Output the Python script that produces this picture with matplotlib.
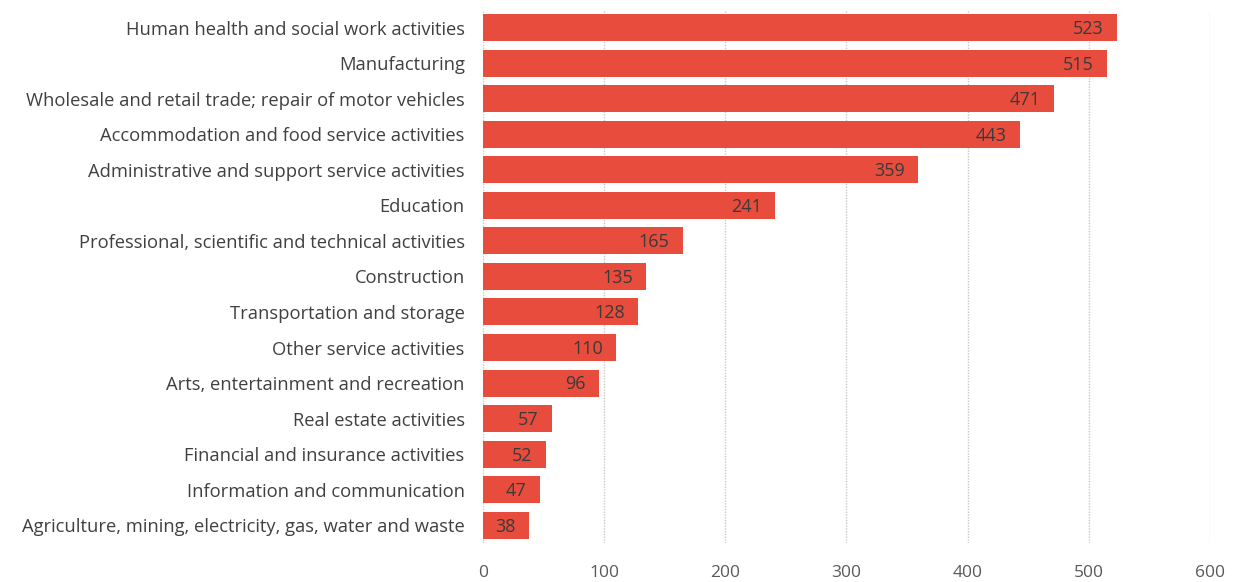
import numpy as np
import matplotlib.pyplot as plt

sectors = [
    "Human health and social work activities",
    "Manufacturing",
    "Wholesale and retail trade; repair of motor vehicles",
    "Accommodation and food service activities",
    "Administrative and support service activities",
    "Education",
    "Professional, scientific and technical activities",
    "Construction",
    "Transportation and storage",
    "Other service activities",
    "Arts, entertainment and recreation",
    "Real estate activities",
    "Financial and insurance activities",
    "Information and communication",
    "Agriculture, mining, electricity, gas, water and waste",
]
values = [523, 515, 471, 443, 359, 241, 165, 135, 128, 110, 96, 57, 52, 47, 38]
xticks = [0, 100, 200, 300, 400, 500, 600]

plt.rcParams['font.family'] = ['Open Sans', 'DejaVu Sans']

fig = plt.figure(figsize=(12.41, 5.82), dpi=100)
ax = fig.add_axes([0.389, 0.067, 0.586, 0.916])

ypos = np.arange(len(sectors))
bars = ax.barh(ypos, values, height=0.76, color="#E84C3D", zorder=2)
for b, v in zip(bars, values):
    ax.text(b.get_width() - 11, b.get_y() + b.get_height() / 2 + 0.04, str(v),
            ha="right", va="center", fontsize=13, color="#3a3a3a", zorder=3)

ax.set_yticks(ypos)
ax.set_yticklabels(sectors, fontsize=13.2, color="#404040")
ax.set_ylim(len(sectors) - 0.5, -0.5)
ax.set_xlim(0, 600)
ax.set_xticks(xticks)
ax.set_xticklabels([str(t) for t in xticks], fontsize=12.5, color="#595959")
ax.tick_params(length=0)
ax.tick_params(axis="x", pad=16)
ax.tick_params(axis="y", pad=13)
ax.xaxis.grid(True, linestyle=(0, (1, 1)), color="#c8c8c8", linewidth=1, zorder=0)
for s in ax.spines.values():
    s.set_visible(False)

fig.savefig("out.png", dpi=100)
